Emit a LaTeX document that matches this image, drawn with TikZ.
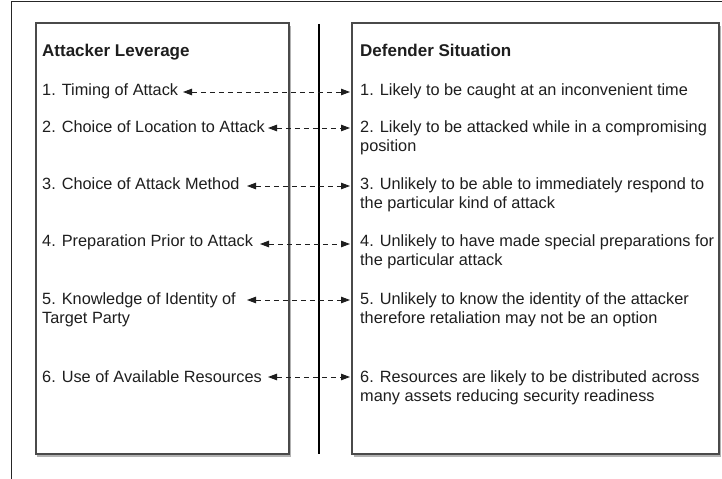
\documentclass[tikz,border=0pt]{standalone}
\usepackage{fontspec}
\setmainfont{Liberation Sans}
\usetikzlibrary{arrows.meta,shadows}
\definecolor{ink}{HTML}{1E1E1E}
\definecolor{boxline}{HTML}{4A4A4A}
\begin{document}
\begin{tikzpicture}[x=1bp,y=-1bp,
  panel/.style={draw=boxline,line width=1.1bp,fill=white,rectangle,inner sep=0,
    drop shadow={shadow xshift=1.5bp,shadow yshift=-3bp,fill=black,opacity=0.3}},
  txt/.style={anchor=base west,align=left,inner sep=0,text=ink,
    font=\fontsize{16.3bp}{19bp}\selectfont},
  head/.style={anchor=base west,inner sep=0,text=ink,
    font=\fontsize{17bp}{19bp}\selectfont\bfseries},
  link/.style={dashed,dash pattern=on 5bp off 4bp,line width=0.9bp,draw=ink,
    {Triangle[length=9bp,width=6.5bp]}-{Triangle[length=9bp,width=6.5bp]}},
  divider/.style={line width=1.7bp,draw=black},
  frame/.style={line width=1bp,draw=black!85}]
\useasboundingbox (0,0) rectangle (722,479);
% outer frame (top and left edges)
\coordinate (ftl) at (11,2);
\coordinate (ftr) at (722,2);
\coordinate (fbl) at (11,479);
\draw[frame] (ftr) -- (ftl) -- (fbl);
% panels
\node[panel,minimum width=253bp,minimum height=431bp] (lbox) at (162.5,238.5) {};
\node[panel,minimum width=367bp,minimum height=431bp] (rbox) at (535.5,238.5) {};
% divider
\coordinate (dtop) at (319,24);
\coordinate (dbot) at (319,454);
\draw[divider] (dtop) -- (dbot);
% headings
\node[head] (lh) at (42,57) {Attacker Leverage};
\node[head] (rh) at (360,57) {Defender Situation};
% left items (base anchor = baseline of last line)
\node[txt] (l1) at (42,96) {1. Timing of Attack};
\node[txt] (l2) at (42,133) {2. Choice of Location to Attack};
\node[txt] (l3) at (42,190) {3. Choice of Attack Method};
\node[txt] (l4) at (42,247) {4. Preparation Prior to Attack};
\node[txt] (l5) at (42,323) {5. Knowledge of Identity of\\Target Party};
\node[txt] (l6) at (42,382) {6. Use of Available Resources};
% right items
\node[txt] (r1) at (360,96) {1. Likely to be caught at an inconvenient time};
\node[txt] (r2) at (360,152) {2. Likely to be attacked while in a compromising\\position};
\node[txt] (r3) at (360,209) {3. Unlikely to be able to immediately respond to\\the particular kind of attack};
\node[txt] (r4) at (360,266) {4. Unlikely to have made special preparations for\\the particular attack};
\node[txt] (r5) at (360,323) {5. Unlikely to know the identity of the attacker\\therefore retaliation may not be an option};
\node[txt] (r6) at (360,401) {6. Resources are likely to be distributed across\\many assets reducing security readiness};
% arrow ends
\coordinate (a1) at (183,92);  \coordinate (b1) at (350,92);
\coordinate (a2) at (268,128); \coordinate (b2) at (350,128);
\coordinate (a3) at (247,186); \coordinate (b3) at (350,186);
\coordinate (a4) at (260,244); \coordinate (b4) at (350,244);
\coordinate (a5) at (247,300); \coordinate (b5) at (350,300);
\coordinate (a6) at (268,377); \coordinate (b6) at (350,377);
\foreach \i in {1,...,6} {\draw[link] (a\i) -- (b\i);}
\end{tikzpicture}
\end{document}
